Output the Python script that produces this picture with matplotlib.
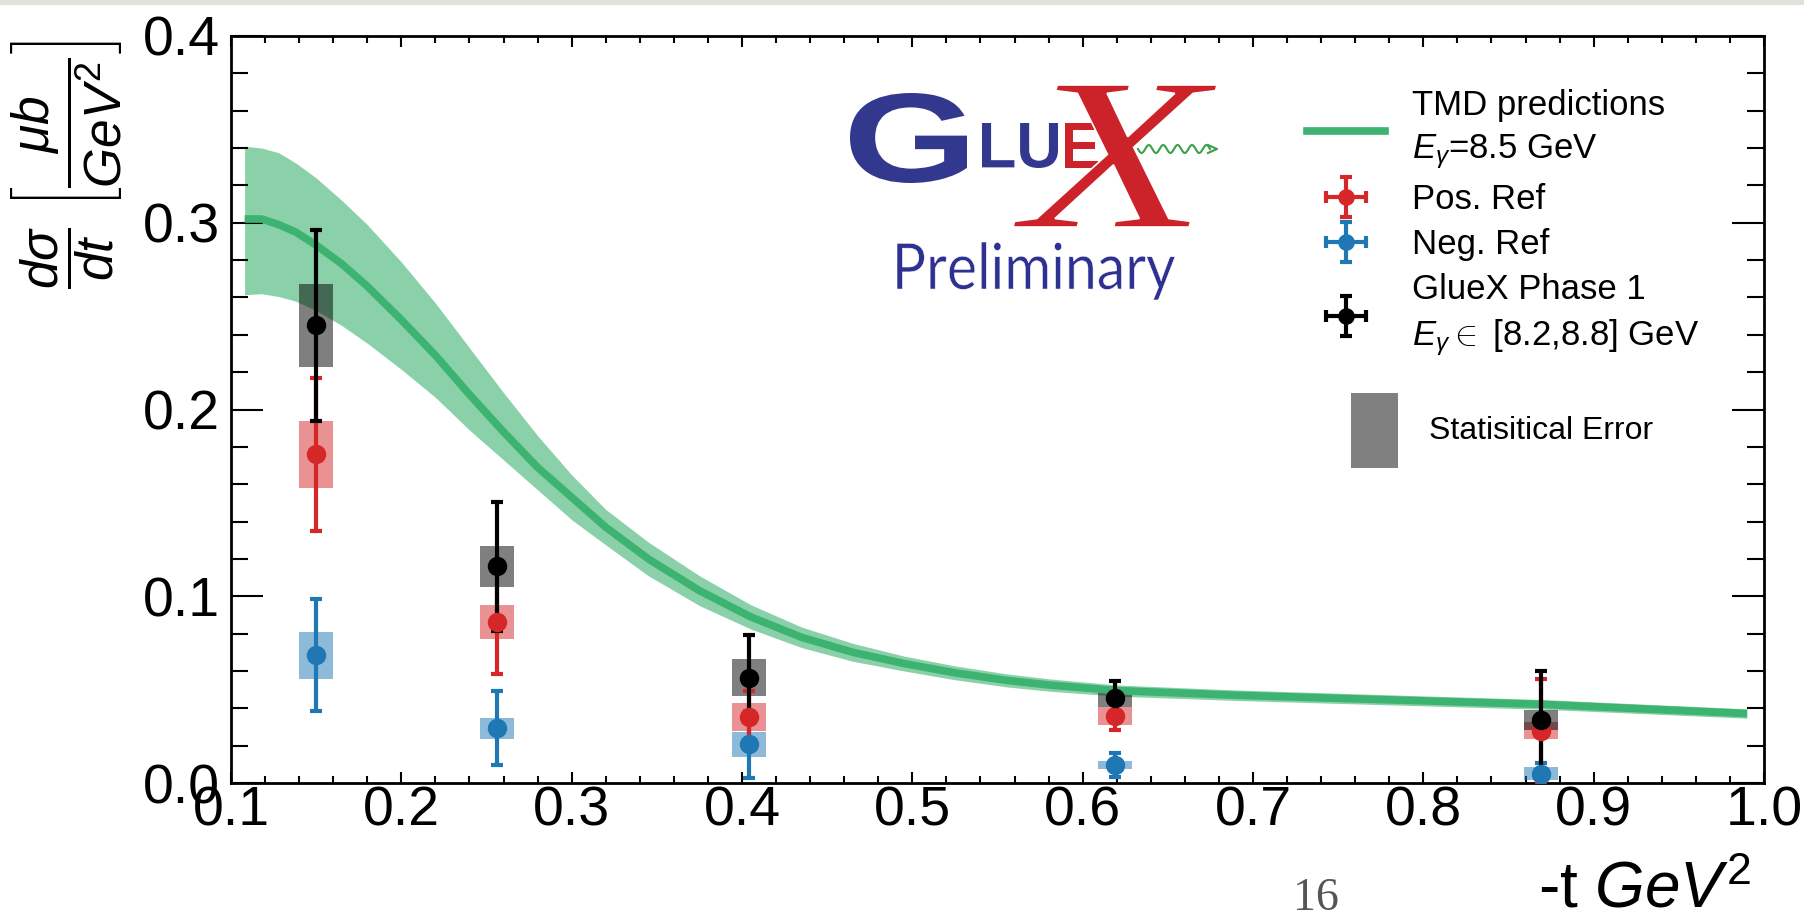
import numpy as np
import matplotlib
matplotlib.use("Agg")
import matplotlib.pyplot as plt
from matplotlib.lines import Line2D
from matplotlib.patches import Rectangle, PathPatch
from matplotlib.legend_handler import HandlerErrorbar
from matplotlib.textpath import TextPath
from matplotlib.font_manager import FontProperties
from matplotlib.transforms import Affine2D

plt.rcParams['font.family'] = ['Liberation Sans', 'DejaVu Sans']
plt.rcParams['mathtext.fontset'] = 'custom'
plt.rcParams['mathtext.rm'] = 'Liberation Sans'
plt.rcParams['mathtext.it'] = 'Liberation Sans:italic'
plt.rcParams['mathtext.bf'] = 'Liberation Sans:bold'
plt.rcParams['mathtext.sf'] = 'Liberation Sans'

# measured points, -t bins
t_bins = [0.150, 0.256, 0.404, 0.619, 0.869]

glx = [0.245, 0.116, 0.0564, 0.0455, 0.0337]
glx_err = [0.051, 0.0345, 0.023, 0.009, 0.0265]
glx_stat = [0.0222, 0.011, 0.010, 0.0048, 0.0054]

pos = [0.176, 0.0863, 0.0352, 0.0358, 0.028]
pos_err = [0.041, 0.028, 0.014, 0.0072, 0.0275]
pos_stat = [0.018, 0.009, 0.0074, 0.0047, 0.0045]

neg = [0.0684, 0.0292, 0.0207, 0.0097, 0.005]
neg_err = [0.030, 0.0198, 0.0178, 0.0063, 0.0056]
neg_stat = [0.0125, 0.0058, 0.0068, 0.002, 0.0035]

# TMD prediction (central curve + band)
tmd_t = [0.108, 0.118, 0.128, 0.138, 0.150, 0.165, 0.180, 0.200, 0.220, 0.240,
         0.260, 0.280, 0.300, 0.320, 0.345, 0.375, 0.405, 0.435, 0.465, 0.495,
         0.525, 0.555, 0.580, 0.620, 0.690, 0.770, 0.870, 0.990]
tmd_mid = [0.302, 0.302, 0.299, 0.295, 0.288, 0.278, 0.266, 0.248, 0.229, 0.208,
           0.188, 0.169, 0.153, 0.137, 0.120, 0.103, 0.089, 0.078, 0.070, 0.064,
           0.059, 0.055, 0.0525, 0.0495, 0.047, 0.0448, 0.0421, 0.0372]
tmd_hi = [0.341, 0.340, 0.3375, 0.332, 0.324, 0.312, 0.299, 0.279, 0.257, 0.233,
          0.209, 0.186, 0.165, 0.1465, 0.129, 0.111, 0.0955, 0.0835, 0.0748, 0.068,
          0.0627, 0.0585, 0.0558, 0.0525, 0.0498, 0.0475, 0.0447, 0.0397]
tmd_lo = [0.2615, 0.262, 0.2605, 0.258, 0.253, 0.245, 0.2355, 0.2215, 0.2065, 0.189,
          0.173, 0.157, 0.141, 0.1275, 0.111, 0.095, 0.0825, 0.0725, 0.0652, 0.060,
          0.0553, 0.0515, 0.0492, 0.0465, 0.0442, 0.0421, 0.0395, 0.0347]

GREEN = '#3cb371'
RED = '#d62728'
BLUE = '#1f77b4'

W, H = 1804, 918
fig = plt.figure(figsize=(W / 100, H / 100), dpi=100)
ax = fig.add_axes([231 / W, 1 - 783 / H, (1764 - 231) / W, (783 - 36) / H])

ax.fill_between(tmd_t, tmd_lo, tmd_hi, color=GREEN, alpha=0.6, lw=0, zorder=1)
ax.plot(tmd_t, tmd_mid, color=GREEN, lw=5.5, solid_capstyle='butt',
        solid_joinstyle='round', zorder=3)

series = [(neg, neg_err, neg_stat, BLUE),
          (pos, pos_err, pos_stat, RED),
          (glx, glx_err, glx_stat, 'black')]

for vals, err, stat, c in series:
    v = np.array(vals)
    s = np.array(stat)
    ax.bar(t_bins, 2 * s, bottom=v - s, width=0.02, color=c, alpha=0.5, lw=0, zorder=2)
for vals, err, stat, c in series:
    ax.errorbar(t_bins, vals, yerr=err, fmt='none', ecolor=c, elinewidth=3,
                capsize=4.5, capthick=3, zorder=4)
for vals, err, stat, c in series:
    ax.plot(t_bins, vals, 'o', color=c, ms=13, zorder=6)

ax.set_xlim(0.1, 1.0)
ax.set_ylim(0.0, 0.4)
ax.set_xticks(np.arange(0.1, 1.01, 0.1))
ax.set_xticks(np.arange(0.1, 1.0, 0.02), minor=True)
ax.set_yticks(np.arange(0.0, 0.41, 0.1))
ax.set_yticks(np.arange(0.0, 0.4, 0.02), minor=True)
ax.xaxis.set_major_formatter(plt.FormatStrFormatter('%.1f'))
ax.yaxis.set_major_formatter(plt.FormatStrFormatter('%.1f'))

ax.tick_params(axis='both', which='both', direction='in', top=True, right=True, width=1.5)
ax.tick_params(axis='y', which='major', length=23, pad=8, labelsize=40)
ax.tick_params(axis='y', which='minor', length=12)
ax.tick_params(axis='x', which='major', length=8, pad=2, labelsize=40)
ax.tick_params(axis='x', which='minor', length=5)
for sp in ax.spines.values():
    sp.set_linewidth(2)

# legend
h_tmd = Line2D([], [], color=GREEN, lw=5.5)
proxies = []
for c in (RED, BLUE, 'black'):
    proxies.append(ax.errorbar([np.nan], [np.nan], xerr=[1], yerr=[1], fmt='o', color=c,
                               ms=11, elinewidth=3, capsize=4.5, capthick=3))
labels = ['TMD predictions\n$E_{\\gamma}$=8.5 GeV', 'Pos. Ref', 'Neg. Ref',
          'GlueX Phase 1\n$E_{\\gamma}\\in$ [8.2,8.8] GeV']
leg = ax.legend([h_tmd] + proxies, labels, loc='upper left', bbox_to_anchor=(0.702, 0.929),
                frameon=False, fontsize=25, handlelength=2.25, handletextpad=0.78,
                labelspacing=0.35, borderpad=0, borderaxespad=0,
                handler_map={p: HandlerErrorbar(xerr_size=0.58) for p in proxies})
for txt in leg.get_texts():
    txt.set_linespacing(1.38)

fig.add_artist(Rectangle((1351 / W, 1 - 468 / H), 47 / W, 75 / H, transform=fig.transFigure,
                         color='#808080', lw=0))
fig.text(1429 / W, 1 - 439 / H, 'Statisitical Error', fontsize=23, va='baseline')

# axis titles
fig.text(1538 / W, 1 - 908 / H, r'-t $GeV^2$', fontsize=46, ha='left', va='baseline')
fig.text(66 / W, 1 - 40 / H, r'$\dfrac{d\sigma}{dt}\ \left[\dfrac{\mu b}{GeV^2}\right]$',
         fontsize=37, rotation=90, ha='center', va='top')

fig.text(1316 / W, 1 - 910 / H, '16', family='Liberation Serif', fontsize=33,
         color='#555555', ha='center', va='baseline')


# GlueX logo
def glyphs(s, box, color, prop, thin=0.0):
    x0, y0, x1, y1 = box
    path = TextPath((0, 0), s, size=100, prop=prop)
    ext = path.get_extents()
    tr = (Affine2D().translate(-ext.x0, -ext.y0)
          .scale((x1 - x0) / ext.width / W, (y1 - y0) / ext.height / H)
          .translate(x0 / W, 1 - y1 / H))
    fig.add_artist(PathPatch(tr.transform_path(path), facecolor=color,
                             edgecolor='white' if thin else 'none', lw=thin,
                             transform=fig.transFigure, zorder=5))


LOGO_BLUE = '#33388f'
LOGO_RED = '#cc2229'
bold = FontProperties(family='Liberation Sans', weight='bold')
glyphs('G', (850, 93, 967, 183), LOGO_BLUE, bold)
glyphs('LU', (982, 123, 1058, 168), LOGO_BLUE, bold)
glyphs('E', (1065, 123, 1098, 168), LOGO_RED, bold)
glyphs('X', (1013, 85, 1217, 227), LOGO_RED,
       FontProperties(family='Liberation Serif', style='italic'), thin=1.2)
glyphs('Preliminary', (897, 242, 1175, 300), '#2e3192',
       FontProperties(family='Lato', weight='normal'), thin=0.4)

wx = np.linspace(1138, 1210, 200)
wy = 149 + 4 * np.sin((wx - 1138) / 72 * 5 * 2 * np.pi)
fig.add_artist(Line2D(wx / W, 1 - wy / H, color='#3aa04a', lw=1.5, transform=fig.transFigure))
fig.add_artist(Line2D([1208 / W, 1217 / W, 1208 / W], [1 - 145 / H, 1 - 149 / H, 1 - 153 / H],
                      color='#3aa04a', lw=1.5, transform=fig.transFigure))

# light strip along the top edge
fig.add_artist(Rectangle((0, 1 - 5 / H), 1, 5 / H, transform=fig.transFigure,
                         color='#e4e1dc', lw=0))

fig.savefig('out.png', dpi=100)
